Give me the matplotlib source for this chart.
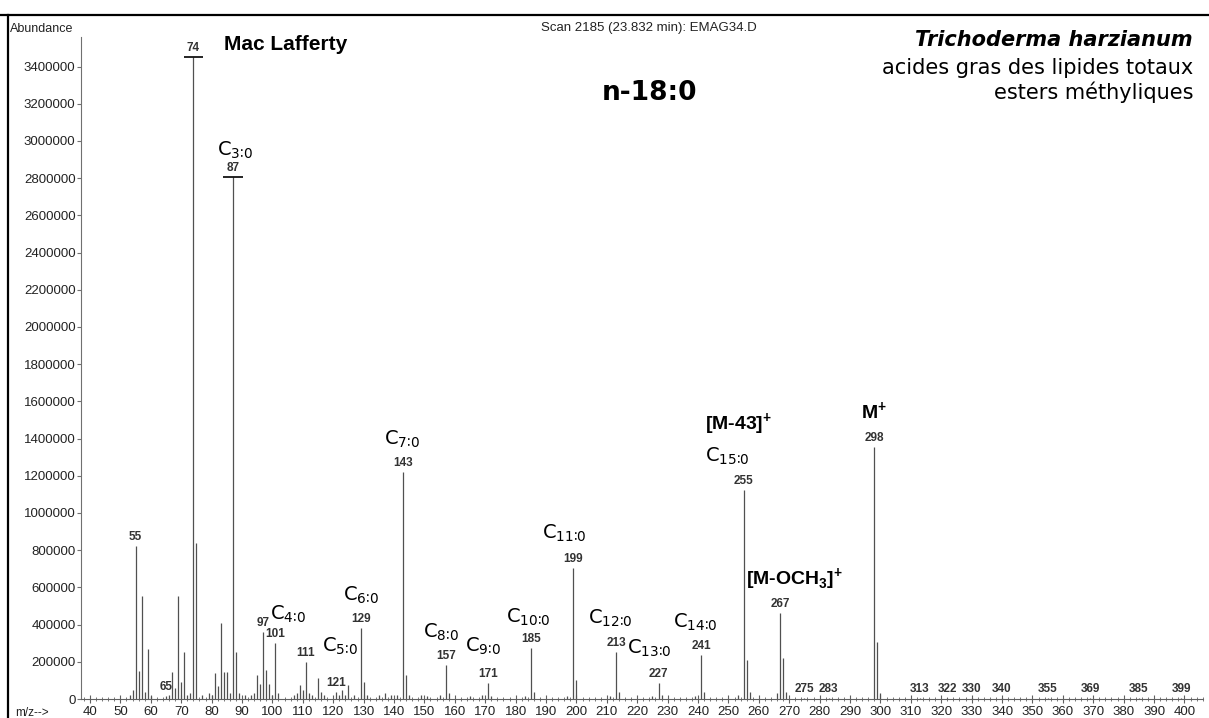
#!/usr/bin/env python3
# -*- coding: utf-8 -*-
# %%
import numpy as np
import matplotlib
matplotlib.use('Agg')
import matplotlib.pyplot as plt
from matplotlib.lines import Line2D
from matplotlib.ticker import MultipleLocator

# %%
# mass spectrum of n-18:0 methyl ester

# main peaks: m/z, abundance
mz_main = [55, 57, 59, 69, 71, 74, 75, 83, 87, 88, 97, 101, 111, 115, 129,
           143, 157, 171, 185, 199, 213, 227, 241, 255, 267, 298]
ab_main = [822000, 553000, 269000, 553000, 253000, 3450000, 839000, 409000,
           2806000, 253000, 360000, 301000, 199000, 113000, 382000,
           1220000, 183000, 86000, 274000, 703000, 253000, 86000, 237000,
           1124000, 462000, 1355000]

# minor peaks
mz_minor = [53, 54, 56, 58, 60, 65, 66, 67, 68, 70, 72, 73, 77, 79, 80, 81,
            82, 84, 85, 86, 89, 91, 93, 94, 95, 96, 98, 99, 100, 102, 107,
            108, 109, 110, 112, 113, 116, 117, 121, 122, 123, 124, 125, 127,
            130, 131, 135, 137, 139, 141, 144, 145, 149, 151, 155, 158, 165,
            169, 172, 183, 186, 197, 200, 211, 214, 225, 228, 239, 242, 253,
            256, 257, 266, 268, 269, 275, 283, 299, 300, 313, 322, 330, 340,
            355, 369, 385, 399]
ab_minor = [20000, 50000, 150000, 40000, 15000, 15000, 20000, 145000, 60000,
            90000, 20000, 30000, 20000, 30000, 20000, 140000, 70000, 145000,
            145000, 30000, 30000, 20000, 20000, 30000, 129000, 80000, 156000,
            80000, 20000, 30000, 20000, 30000, 75000, 50000, 30000, 20000,
            40000, 20000, 40000, 20000, 50000, 20000, 75000, 20000, 91000,
            20000, 20000, 30000, 20000, 20000, 129000, 20000, 20000, 15000,
            20000, 30000, 15000, 20000, 15000, 15000, 40000, 15000, 100000,
            15000, 35000, 15000, 20000, 15000, 40000, 20000, 210000, 40000,
            30000, 220000, 40000, 8000, 8000, 306000, 30000, 4000, 4000,
            4000, 4000, 4000, 4000, 4000, 4000]

# peak number labels
num_labels = ['74', '87', '55', '65', '97', '101', '111', '121', '129', '143',
              '157', '171', '185', '199', '213', '227', '241', '255', '267',
              '275', '283', '298', '313', '322', '330', '340', '355', '369',
              '385', '399']

# fragment labels: (m/z of peak, text)
frag_mz = [87, 101, 115, 129, 143, 157, 171, 185, 199, 213, 227, 241, 255]
frag_txt = ['3\u22360', '4\u22360', '5\u22360', '6\u22360', '7\u22360',
            '8\u22360', '9\u22360', '10\u22360', '11\u22360', '12\u22360',
            '13\u22360', '14\u22360', '15\u22360']
# offsets in px from the peak top (dx, dy)
frag_off = [(2, 27), (12, 29), (22, 32), (0, 33), (-1, 33), (-5, 33),
            (-5, 37), (-3, 31), (-9, 35), (-6, 34), (-9, 35), (-6, 33),
            (-16, 34)]

ion_mz = [255, 267, 298]
ion_txt = [r'[M-43]$^\mathregular{+}$', r'[M-OCH$_\mathregular{3}$]$^\mathregular{+}$',
           r'M$^\mathregular{+}$']
ion_off = [(-5, 65), (14, 33), (0, 35)]

yticks = np.arange(0, 3400001, 200000)
xticks = np.arange(40, 401, 10)

# %%
mz_all = mz_main + mz_minor
ab_all = ab_main + ab_minor
top = dict(zip(mz_all, ab_all))

W, H = 1209, 718
fig = plt.figure(figsize=(W / 100, H / 100), dpi=100)
ax = fig.add_axes([81 / W, 1 - 699 / H, (1203 - 81) / W, (699 - 37) / H])

ax.vlines(mz_all, 0, ab_all, color='#505050', lw=0.9)
# crossbars on the two big peaks
for m in [74, 87]:
    ax.hlines(top[m], m - 3.2, m + 3.2, color='black', lw=1.2)

ax.set_xlim(37.04, 406.1)
ax.set_ylim(0, 3559000)

ax.spines['top'].set_visible(False)
ax.spines['right'].set_visible(False)
ax.spines['left'].set_color('#707070')
ax.spines['bottom'].set_color('#606060')

ax.set_yticks(yticks)
ax.set_yticklabels([str(v) for v in yticks], fontsize=9.5,
                   family='Liberation Sans', color='#222222')
ax.set_xticks(xticks)
ax.set_xticklabels([str(v) for v in xticks], fontsize=9.5,
                   family='Liberation Sans', color='#222222')
ax.xaxis.set_minor_locator(MultipleLocator(2))
ax.tick_params(axis='y', length=3, width=0.8, color='#707070', pad=1)
ax.tick_params(axis='x', which='major', direction='inout', length=6,
               width=0.8, color='#606060', pad=2)
ax.tick_params(axis='x', which='minor', direction='inout', length=3,
               width=0.6, color='#606060')

# peak numbers
for lab in num_labels:
    m = int(lab)
    ax.annotate(lab, (m, top[m]), xytext=(0, 2), textcoords='offset points',
                ha='center', va='bottom', fontsize=8.5, fontweight='bold',
                family='Liberation Sans', color='#333333')

# fragment labels C n:0
for m, t, (dx, dy) in zip(frag_mz, frag_txt, frag_off):
    ax.annotate('C$_\\mathregular{' + t + '}$', (m, top[m]),
                xytext=(dx * 0.72, dy * 0.72), textcoords='offset points',
                ha='center', va='center', fontsize=14, family='DejaVu Sans')

for m, t, (dx, dy) in zip(ion_mz, ion_txt, ion_off):
    ax.annotate(t, (m, top[m]), xytext=(dx * 0.72, dy * 0.72),
                textcoords='offset points', ha='center', va='center',
                fontsize=14, fontweight='bold', family='Liberation Sans')

# header texts
fig.text(10 / W, 1 - 29 / H, 'Abundance', fontsize=9, family='Liberation Sans',
         va='center', color='#222222')
fig.text(15 / W, 1 - 713 / H, 'm/z-->', fontsize=8.5, family='Liberation Sans',
         va='center', color='#222222')
fig.text(649 / W, 1 - 28 / H, 'Scan 2185 (23.832 min): EMAG34.D', fontsize=9.5,
         family='Liberation Sans', ha='center', va='center', color='#222222')
fig.text(224 / W, 1 - 45 / H, 'Mac Lafferty', fontsize=15, fontweight='bold',
         family='Liberation Sans', va='center')
fig.text(649 / W, 1 - 93 / H, 'n-18:0', fontsize=19, fontweight='bold',
         family='DejaVu Sans', ha='center', va='center')
fig.text(1193 / W, 1 - 46 / H, 'Trichoderma harzianum', fontsize=15,
         fontweight='bold', style='italic', family='DejaVu Sans',
         ha='right', va='baseline')
fig.text(1193 / W, 1 - 74 / H, 'acides gras des lipides totaux', fontsize=15,
         family='DejaVu Sans', ha='right', va='baseline')
fig.text(1193 / W, 1 - 99 / H, 'esters méthyliques', fontsize=15,
         family='DejaVu Sans', ha='right', va='baseline')

# frame of the scanned figure
fig.add_artist(Line2D([0, 1], [1 - 15 / H, 1 - 15 / H], color='black', lw=1.6))
fig.add_artist(Line2D([8 / W, 8 / W], [0, 1 - 15 / H], color='black', lw=1.6))

fig.savefig('out.png', dpi=100)
